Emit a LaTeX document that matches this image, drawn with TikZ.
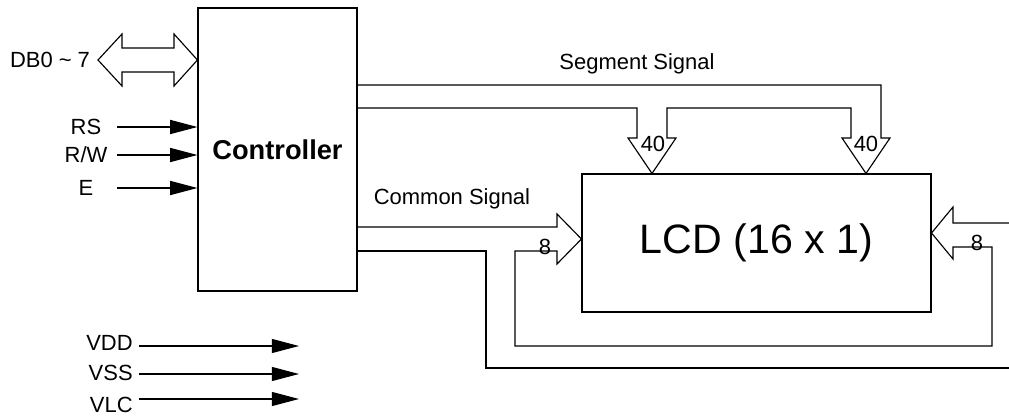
\documentclass[tikz,border=0pt]{standalone}
\usepackage{fontspec}
\setmainfont{Liberation Sans}
\usetikzlibrary{arrows.meta, positioning, calc}
\tikzset{
    % Box styles
    blockbox/.style={
        rectangle,
        draw=black,
        line width=0.65pt,
        inner sep=0pt
    },
    siglabel/.style={
        inner sep=0pt,
        font=\fontsize{12.5}{14}\selectfont
    },
    % Line styles
    sigarrow/.style={
        -{Triangle[length=15.5pt, width=8pt]},
        line width=0.65pt
    },
    busline/.style={
        line width=0.65pt,
        line join=miter
    }
}
\begin{document}
\begin{tikzpicture}[x=0.02cm, y=-0.02cm]
    \useasboundingbox (0,0) rectangle (1009,416);

    % Blocks
    \node[blockbox, minimum width=3.18cm, minimum height=5.66cm, font=\fontsize{15.5}{18}\selectfont\bfseries] (ctrl) at (277.5,149.5) {Controller};
    \node[blockbox, minimum width=6.98cm, minimum height=2.76cm, font=\fontsize{23.4}{28}\selectfont] (lcd) at (756.5,243) {LCD (16 x 1)};

    % Data bus
    \node[siglabel] (db) at (50,60) {DB0 \textasciitilde{} 7};
    \coordinate (dbtip) at (98,60);
    \draw[busline] (dbtip) -- (122,34) -- (122,48) -- (174,48) -- (174,34) -- (ctrl.west |- dbtip)
        -- (174,86) -- (174,72) -- (122,72) -- (122,86) -- cycle;

    % Control inputs
    \foreach \txt/\yy/\nm in {RS/127/rs, {R/W}/155/rw, E/188/en} {
        \node[siglabel] (\nm) at (86,\yy) {\txt};
        \coordinate (\nm-in) at (117,\yy);
        \draw[sigarrow] (\nm-in) -- (ctrl.west |- \nm-in);
    }

    % Segment signal
    \node[siglabel] (seglbl) at (637,64) {Segment Signal};
    \draw[busline] (ctrl.east |- 0,85) -- (881,85) -- (881,138) -- (890,138) -- (lcd.north -| 866,0)
        -- (842,138) -- (851,138) -- (851,108) -- (667,108) -- (667,138) -- (676,138)
        -- (lcd.north -| 652,0) -- (628,138) -- (637,138) -- (637,108) -- (ctrl.east |- 0,108);
    \node[siglabel] (segwa) at (653,144) {40};
    \node[siglabel] (segwb) at (866,144) {40};

    % Common signal
    \node[siglabel] (comlbl) at (452,199) {Common Signal};
    \draw[busline] (ctrl.east |- 0,227) -- (557,227) -- (557,214) -- (lcd.west |- 0,239) -- (557,264)
        -- (557,251) -- (515,251) -- (515,346) -- (992,346) -- (992,247) -- (953,247) -- (953,259)
        -- (lcd.east |- 0,233) -- (953,207) -- (953,223) -- (1009,223);
    \draw[busline] (ctrl.east |- 0,251) -- (486,251) -- (486,368) -- (1009,368);
    \node[siglabel] (comwa) at (545,247) {8};
    \node[siglabel] (comwb) at (977,243) {8};

    % Power inputs
    \foreach \txt/\yy/\ty/\nm in {VDD/346/343/vdd, VSS/374/373/vss, VLC/399/405/vlc} {
        \node[siglabel, anchor=east] (\nm) at (133,\ty) {\txt};
        \coordinate (\nm-in) at (139,\yy);
        \coordinate (\nm-out) at (299,\yy);
        \draw[sigarrow] (\nm-in) -- (\nm-out);
    }
\end{tikzpicture}
\end{document}
